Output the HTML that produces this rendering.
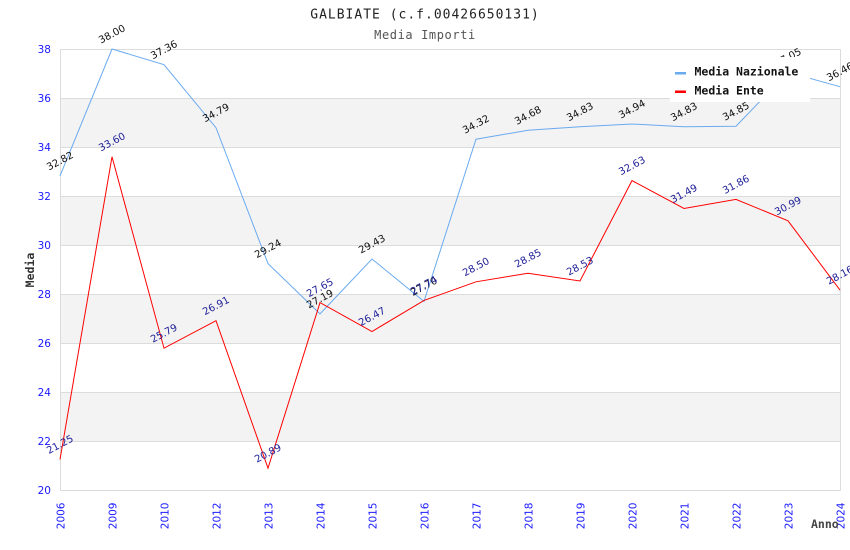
<!DOCTYPE html>
<html><head><meta charset="utf-8"><style>
html,body{margin:0;padding:0;background:#fff;}
svg{display:block;}
</style></head><body>
<svg width="850" height="550" viewBox="0 0 850 550" xmlns="http://www.w3.org/2000/svg">
<rect width="850" height="550" fill="#fff"/>
<g fill="#f3f3f3">
<rect x="60.5" y="98" width="780" height="49"/>
<rect x="60.5" y="196" width="780" height="49"/>
<rect x="60.5" y="294" width="780" height="49"/>
<rect x="60.5" y="392" width="780" height="49"/>
</g>
<g stroke="#dcdcdc" stroke-width="1">
<line x1="60.5" y1="49.5" x2="840.5" y2="49.5"/>
<line x1="60.5" y1="98.5" x2="840.5" y2="98.5"/>
<line x1="60.5" y1="147.5" x2="840.5" y2="147.5"/>
<line x1="60.5" y1="196.5" x2="840.5" y2="196.5"/>
<line x1="60.5" y1="245.5" x2="840.5" y2="245.5"/>
<line x1="60.5" y1="294.5" x2="840.5" y2="294.5"/>
<line x1="60.5" y1="343.5" x2="840.5" y2="343.5"/>
<line x1="60.5" y1="392.5" x2="840.5" y2="392.5"/>
<line x1="60.5" y1="441.5" x2="840.5" y2="441.5"/>
<line x1="60.5" y1="490.5" x2="840.5" y2="490.5"/>
<line x1="60.5" y1="49.5" x2="60.5" y2="490.5"/>
<line x1="840.5" y1="49.5" x2="840.5" y2="490.5"/>
</g>
<text x="425" y="18.5" text-anchor="middle" font-family="'DejaVu Sans Mono','Liberation Mono',monospace" font-size="13" letter-spacing="1" fill="#222">GALBIATE (c.f.00426650131)</text>
<text x="425" y="39" text-anchor="middle" font-family="'DejaVu Sans Mono','Liberation Mono',monospace" font-size="12" letter-spacing="0.6" fill="#555">Media Importi</text>
<g font-family="'DejaVu Sans','Liberation Sans',sans-serif" font-size="10.5" fill="#1a1aff" text-anchor="end">
<text x="51" y="53">38</text>
<text x="51" y="102">36</text>
<text x="51" y="151">34</text>
<text x="51" y="200">32</text>
<text x="51" y="249">30</text>
<text x="51" y="298">28</text>
<text x="51" y="347">26</text>
<text x="51" y="396">24</text>
<text x="51" y="445">22</text>
<text x="51" y="494">20</text>
</g>
<g font-family="'DejaVu Sans','Liberation Sans',sans-serif" font-size="10.5" fill="#1a1aff" text-anchor="end">
<text transform="translate(64.5,502.5) rotate(-90)">2006</text>
<text transform="translate(116.5,502.5) rotate(-90)">2009</text>
<text transform="translate(168.5,502.5) rotate(-90)">2010</text>
<text transform="translate(220.5,502.5) rotate(-90)">2012</text>
<text transform="translate(272.5,502.5) rotate(-90)">2013</text>
<text transform="translate(324.5,502.5) rotate(-90)">2014</text>
<text transform="translate(376.5,502.5) rotate(-90)">2015</text>
<text transform="translate(428.5,502.5) rotate(-90)">2016</text>
<text transform="translate(480.5,502.5) rotate(-90)">2017</text>
<text transform="translate(532.5,502.5) rotate(-90)">2018</text>
<text transform="translate(584.5,502.5) rotate(-90)">2019</text>
<text transform="translate(636.5,502.5) rotate(-90)">2020</text>
<text transform="translate(688.5,502.5) rotate(-90)">2021</text>
<text transform="translate(740.5,502.5) rotate(-90)">2022</text>
<text transform="translate(792.5,502.5) rotate(-90)">2023</text>
<text transform="translate(844.5,502.5) rotate(-90)">2024</text>
</g>
<text transform="translate(34,270) rotate(-90)" text-anchor="middle" font-family="'DejaVu Sans Mono','Liberation Mono',monospace" font-size="11.5" font-weight="bold" fill="#333">Media</text>
<text x="811" y="528" font-family="'DejaVu Sans Mono','Liberation Mono',monospace" font-size="11.5" font-weight="bold" fill="#444">Anno</text>
<polyline fill="none" stroke="#6aaaf0" stroke-width="1" points="60,175.9 112,49 164,64.7 216,127.7 268,263.6 320,313.9 372,259 424,301.4 476,139.2 528,130.3 580,126.7 632,124 684,126.7 736,126.2 788,72.3 840,86.7"/>
<polyline fill="none" stroke="#ff0000" stroke-width="1" points="60,459.4 112,156.8 164,348.2 216,320.7 268,468.2 320,302.6 372,331.5 424,300.4 476,281.8 528,273.2 580,281 632,180.6 684,208.5 736,199.4 788,220.8 840,290.1"/>
<g font-family="'DejaVu Sans','Liberation Sans',sans-serif" font-size="10" fill="#111" text-anchor="middle">
<text transform="translate(61.5,163.9) rotate(-28)">32.82</text>
<text transform="translate(113.5,37) rotate(-28)">38.00</text>
<text transform="translate(165.5,52.7) rotate(-28)">37.36</text>
<text transform="translate(217.5,115.7) rotate(-28)">34.79</text>
<text transform="translate(269.5,251.6) rotate(-28)">29.24</text>
<text transform="translate(321.5,301.9) rotate(-28)">27.19</text>
<text transform="translate(373.5,247) rotate(-28)">29.43</text>
<text transform="translate(425.5,289.4) rotate(-28)">27.70</text>
<text transform="translate(477.5,127.2) rotate(-28)">34.32</text>
<text transform="translate(529.5,118.3) rotate(-28)">34.68</text>
<text transform="translate(581.5,114.7) rotate(-28)">34.83</text>
<text transform="translate(633.5,112) rotate(-28)">34.94</text>
<text transform="translate(685.5,114.7) rotate(-28)">34.83</text>
<text transform="translate(737.5,114.2) rotate(-28)">34.85</text>
<text transform="translate(789.5,60.3) rotate(-28)">37.05</text>
<text transform="translate(841.5,74.7) rotate(-28)">36.46</text>
</g>
<g font-family="'DejaVu Sans','Liberation Sans',sans-serif" font-size="10" fill="#1c1c96" text-anchor="middle">
<text transform="translate(61.5,447.4) rotate(-28)">21.25</text>
<text transform="translate(113.5,144.8) rotate(-28)">33.60</text>
<text transform="translate(165.5,336.2) rotate(-28)">25.79</text>
<text transform="translate(217.5,308.7) rotate(-28)">26.91</text>
<text transform="translate(269.5,456.2) rotate(-28)">20.89</text>
<text transform="translate(321.5,290.6) rotate(-28)">27.65</text>
<text transform="translate(373.5,319.5) rotate(-28)">26.47</text>
<text transform="translate(425.5,288.4) rotate(-28)">27.74</text>
<text transform="translate(477.5,269.8) rotate(-28)">28.50</text>
<text transform="translate(529.5,261.2) rotate(-28)">28.85</text>
<text transform="translate(581.5,269) rotate(-28)">28.53</text>
<text transform="translate(633.5,168.6) rotate(-28)">32.63</text>
<text transform="translate(685.5,196.5) rotate(-28)">31.49</text>
<text transform="translate(737.5,187.4) rotate(-28)">31.86</text>
<text transform="translate(789.5,208.8) rotate(-28)">30.99</text>
<text transform="translate(841.5,278.1) rotate(-28)">28.16</text>
</g>
<rect x="670" y="57" width="140" height="45" fill="#fff"/>
<rect x="675" y="72" width="11" height="2.5" fill="#6aaaf0"/>
<rect x="675" y="90.5" width="11" height="2.5" fill="#ff0000"/>
<g font-family="'DejaVu Sans Mono','Liberation Mono',monospace" font-size="11.5" font-weight="bold" fill="#111">
<text x="694.5" y="75.5">Media Nazionale</text>
<text x="694.5" y="94.5">Media Ente</text>
</g>
</svg>
</body></html>
